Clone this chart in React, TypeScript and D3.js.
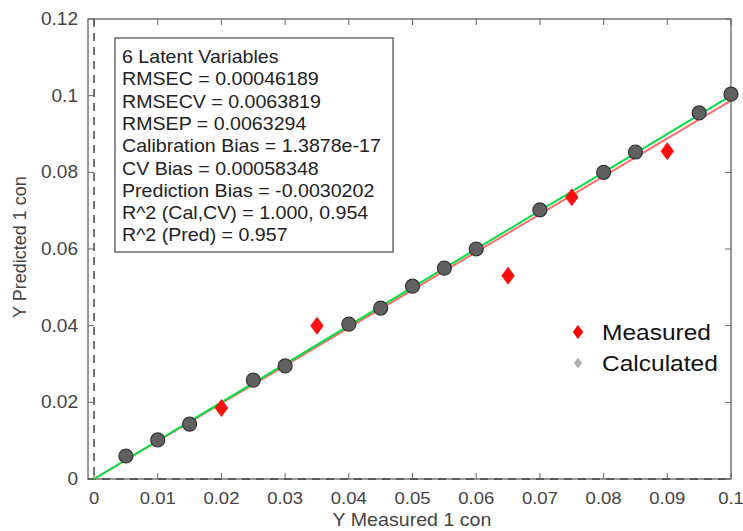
import React from "react";
import * as d3 from "d3";

const calcX = [0.005, 0.01, 0.015, 0.025, 0.03, 0.04, 0.045, 0.05, 0.055, 0.06, 0.07, 0.08, 0.085, 0.095, 0.1];
const calcY = [0.006, 0.0102, 0.0143, 0.0258, 0.0295, 0.0404, 0.0446, 0.0503, 0.055, 0.06, 0.0702, 0.08, 0.0853, 0.0955, 0.1004];
const measX = [0.02, 0.035, 0.065, 0.075, 0.09];
const measY = [0.0185, 0.04, 0.053, 0.0735, 0.0855];
const fitGreen = [[0, 0], [0.1, 0.1]];
const fitRed = [[0, 0], [0.1, 0.0987]];
const xTicks = [0, 0.01, 0.02, 0.03, 0.04, 0.05, 0.06, 0.07, 0.08, 0.09, 0.1];
const yTicks = [0, 0.02, 0.04, 0.06, 0.08, 0.1, 0.12];
const statLines = [
  "6 Latent Variables",
  "RMSEC = 0.00046189",
  "RMSECV = 0.0063819",
  "RMSEP = 0.0063294",
  "Calibration Bias = 1.3878e-17",
  "CV Bias = 0.00058348",
  "Prediction Bias = -0.0030202",
  "R^2 (Cal,CV) = 1.000, 0.954",
  "R^2 (Pred) = 0.957",
];

const W = 743;
const H = 531;
const left = 88, right = 731, top = 19, bottom = 479;
// the source picture is a bit stretched sideways
const SX = 1.09;

function T({ x, y, size, anchor = "start", fill = "#444", children }: any) {
  return (
    <text transform={`translate(${x},${y}) scale(${SX},1)`} fontSize={size} textAnchor={anchor} fill={fill}>
      {children}
    </text>
  );
}

export default function App() {
  const x = d3.scaleLinear().domain([-0.00095, 0.1]).range([left, right]);
  const y = d3.scaleLinear().domain([0, 0.12]).range([bottom, top]);
  const line = d3.line<number[]>().x((d) => x(d[0])).y((d) => y(d[1]));
  const font = "'Liberation Sans', Arial, sans-serif";
  const diamond = (cx: number, cy: number, r: number) =>
    `M${cx},${cy - r}L${cx + r * 0.75},${cy}L${cx},${cy + r}L${cx - r * 0.75},${cy}Z`;

  return (
    <svg width={W} height={H} style={{ position: "absolute", left: 0, top: 0 }} fontFamily={font}>
      <rect width={W} height={H} fill="#fff" />
      {/* axes box */}
      <rect x={left} y={top} width={right - left} height={bottom - top} fill="none" stroke="#777" strokeWidth={1.5} />
      {/* zero lines */}
      <line x1={x(0)} x2={x(0)} y1={top} y2={bottom} stroke="#444" strokeWidth={1.5} strokeDasharray="8,6" />
      <line x1={left} x2={right} y1={y(0)} y2={y(0)} stroke="#444" strokeWidth={1.5} strokeDasharray="8,6" />
      {xTicks.map((t) => (
        <g key={"x" + t}>
          <line x1={x(t)} x2={x(t)} y1={bottom} y2={bottom - 6} stroke="#666" />
          <line x1={x(t)} x2={x(t)} y1={top} y2={top + 6} stroke="#666" />
          <T x={x(t)} y={bottom + 25} size={17} anchor="middle">{String(t)}</T>
        </g>
      ))}
      {yTicks.map((t) => (
        <g key={"y" + t}>
          <line x1={left} x2={left + 6} y1={y(t)} y2={y(t)} stroke="#666" />
          <line x1={right} x2={right - 6} y1={y(t)} y2={y(t)} stroke="#666" />
          <T x={left - 10} y={y(t) + 6} size={17.5} anchor="end">{String(t)}</T>
        </g>
      ))}
      <T x={412} y={526} size={18} anchor="middle">Y Measured 1 con</T>
      <text transform={`translate(26,247) rotate(-90)`} textAnchor="middle" fontSize={18} fill="#444">Y Predicted 1 con</text>
      {/* fit lines */}
      <path d={line(fitRed) || ""} stroke="#ff6b6b" strokeWidth={2} fill="none" />
      <path d={line(fitGreen) || ""} stroke="#00e040" strokeWidth={2} fill="none" />
      {calcX.map((v, i) => (
        <circle key={"c" + i} cx={x(v)} cy={y(calcY[i])} r={7} fill="#606060" stroke="#333" strokeWidth={1.2} />
      ))}
      {measX.map((v, i) => (
        <path key={"m" + i} d={diamond(x(v), y(measY[i]), 9)} fill="#ff1010" />
      ))}
      {/* stats box */}
      <rect x={115} y={38} width={278} height={214} fill="#fff" stroke="#555" strokeWidth={1.3} />
      {statLines.map((s, i) => (
        <T key={s} x={122} y={63 + i * 22.3} size={18} fill="#222">{s}</T>
      ))}
      {/* legend */}
      <path d={diamond(578, 332, 7)} fill="#ff0000" />
      <T x={602} y={340} size={22.5} fill="#111">Measured</T>
      <path d={diamond(578, 363, 5.5)} fill="#b0b0b0" />
      <T x={602} y={371} size={22.5} fill="#111">Calculated</T>
    </svg>
  );
}
